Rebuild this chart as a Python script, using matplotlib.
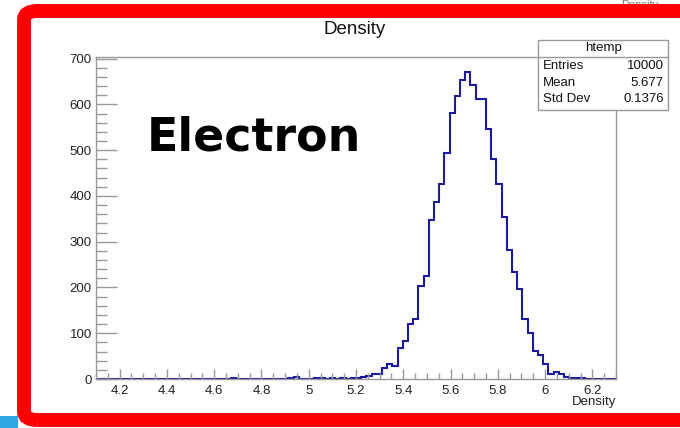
import matplotlib
matplotlib.use("Agg")
import matplotlib.pyplot as plt
from matplotlib.patches import FancyBboxPatch, Rectangle
from matplotlib.ticker import MultipleLocator, FuncFormatter
import numpy as np

# histogram definition (100 bins from 4.1 to 6.3)
x_lo, x_hi, n_bins = 4.1, 6.3, 100
counts = [0, 0, 0, 0, 0, 0, 0, 1, 0, 0,
          0, 0, 0, 0, 1, 0, 0, 0, 0, 0,
          0, 0, 0, 0, 1, 0, 2, 1, 0, 0,
          0, 0, 0, 0, 0, 0, 1, 2, 4, 1,
          0, 0, 2, 2, 1, 2, 1, 3, 1, 3,
          2, 5, 7, 11, 12, 25, 32, 29, 67, 84,
          120, 132, 203, 225, 348, 387, 425, 494, 581, 618,
          653, 670, 643, 611, 611, 547, 481, 425, 353, 282,
          234, 196, 132, 101, 62, 52, 33, 12, 16, 10,
          5, 3, 3, 2, 1, 1, 1, 0, 0, 0]
stat_names = ["Entries", "Mean", "Std Dev"]
stat_values = ["10000", "5.677", "0.1376"]
hist_name = "htemp"
var_name = "Density"
overlay_text = "Electron"

font = "Liberation Sans"
W, H = 680, 428
fig = plt.figure(figsize=(W / 100, H / 100), dpi=100)

def fx(px):
    return px / W

def fy(py):
    return 1 - py / H

ax = fig.add_axes([fx(96), fy(379), fx(616) - fx(96), fy(57) - fy(379)])
edges = np.linspace(x_lo, x_hi, n_bins + 1)
ax.stairs(counts, edges, color="#1a1aa0", lw=1.5)
ax.set_xlim(x_lo, x_hi)
ax.set_ylim(0, max(counts) * 1.05)

gray = "#999999"
for s in ax.spines.values():
    s.set_color(gray)
    s.set_linewidth(1.0)
ax.xaxis.set_major_locator(MultipleLocator(0.2))
ax.xaxis.set_minor_locator(MultipleLocator(0.05))
ax.yaxis.set_major_locator(MultipleLocator(100))
ax.yaxis.set_minor_locator(MultipleLocator(20))
ax.xaxis.set_major_formatter(FuncFormatter(lambda v, p: "%g" % round(v, 3)))
ax.tick_params(axis="x", which="major", direction="in", length=7, color=gray, width=1,
               labelsize=9.5, labelcolor="#222222", pad=4)
ax.tick_params(axis="x", which="minor", direction="in", length=4, color=gray, width=1)
ax.tick_params(axis="y", which="major", direction="in", length=15, color=gray, width=1,
               labelsize=9.5, labelcolor="#222222", pad=3)
ax.tick_params(axis="y", which="minor", direction="in", length=8, color=gray, width=1)
for lab in ax.get_xticklabels() + ax.get_yticklabels():
    lab.set_family(font)

# title and axis label
fig.text(fx(355), fy(30), var_name, ha="center", va="center", fontsize=13.5,
         family=font, color="#111111")
fig.text(fx(616), fy(402), var_name, ha="right", va="center", fontsize=9.5,
         family=font, color="#222222")
# text at the top right corner, partly hidden in the reference
fig.text(fx(640), fy(5), var_name, ha="center", va="center", fontsize=8,
         family=font, color="#777777")

# stats box
bx0, bx1, by0, by1, bsep = 538, 668, 40, 110, 57
fig.patches.append(Rectangle((fx(bx0), fy(by1)), fx(bx1) - fx(bx0), fy(by0) - fy(by1),
                             transform=fig.transFigure, facecolor="white",
                             edgecolor=gray, lw=1.0, zorder=5))
fig.lines.append(plt.Line2D([fx(bx0), fx(bx1)], [fy(bsep), fy(bsep)],
                            transform=fig.transFigure, color=gray, lw=1.0, zorder=6))
fig.text(fx((bx0 + bx1) / 2), fy(48.5), hist_name, ha="center", va="center",
         fontsize=9.5, family=font, color="#111111", zorder=7)
for i, (n, v) in enumerate(zip(stat_names, stat_values)):
    yy = fy(66 + i * 16.5)
    fig.text(fx(543), yy, n, ha="left", va="center", fontsize=9.5, family=font,
             color="#111111", zorder=7)
    fig.text(fx(664), yy, v, ha="right", va="center", fontsize=9.5, family=font,
             color="#111111", zorder=7)

# big overlay label
fig.text(fx(147), fy(138), overlay_text, ha="left", va="center", fontsize=33,
         fontweight="bold", family="DejaVu Sans", color="black")

# red rounded border, right side runs off the picture
fig.patches.append(FancyBboxPatch((fx(24), fy(420)), fx(700) - fx(24), fy(11) - fy(420),
                                  boxstyle="round,pad=0,rounding_size=0.02",
                                  transform=fig.transFigure, facecolor="none",
                                  edgecolor="#ff0000", lw=10, zorder=10))
fig.patches.append(Rectangle((0, 0), fx(18), fy(416), transform=fig.transFigure,
                             facecolor="#2ea8e0", edgecolor="none", zorder=9))

fig.savefig("out.png", dpi=100)
